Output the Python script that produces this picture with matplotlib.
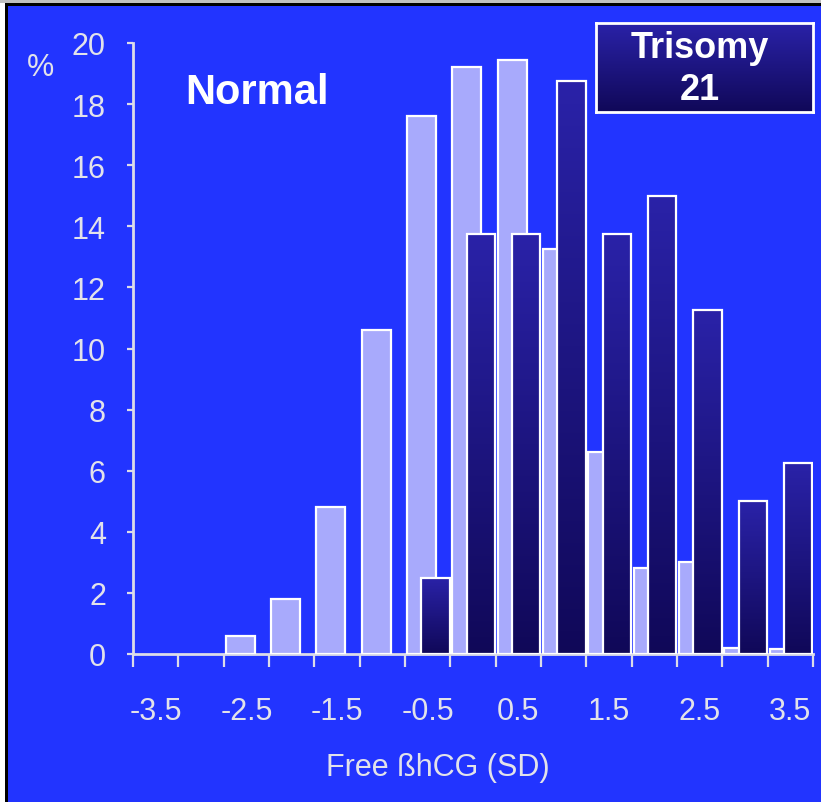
import numpy as np
import matplotlib
matplotlib.use("Agg")
import matplotlib.pyplot as plt
from matplotlib.colors import LinearSegmentedColormap
from matplotlib.patches import Rectangle

# ---- data ----
categories = [-3.5, -3.0, -2.5, -2.0, -1.5, -1.0, -0.5, 0.0, 0.5, 1.0, 1.5, 2.0, 2.5, 3.0, 3.5]
normal_pct = [0, 0, 0.6, 1.8, 4.8, 10.6, 17.6, 19.2, 19.45, 13.25, 6.6, 2.8, 3.0, 0.2, 0.15]
trisomy21_pct = [0, 0, 0, 0, 0, 0, 2.5, 13.75, 13.75, 18.75, 13.75, 15.0, 11.25, 5.0, 6.25]
x_tick_labels = ["-3.5", "-2.5", "-1.5", "-0.5", "0.5", "1.5", "2.5", "3.5"]
y_ticks = list(range(0, 21, 2))

# ---- style ----
BG = "#2234FF"
LAV = "#A8AAFC"
AXC = "#DCDCE8"
TXT = "#E2E2EA"
plt.rcParams['font.family'] = ['Liberation Sans', 'DejaVu Sans']

W, H = 821, 803
fig = plt.figure(figsize=(W / 100, H / 100), dpi=100, facecolor=BG)
ax = fig.add_axes([133 / W, (H - 655) / H, (813 - 133) / W, (655 - 44) / H])
ax.set_facecolor(BG)

idx = np.arange(len(categories))
nv = np.array(normal_pct, dtype=float)
tv = np.array(trisomy21_pct, dtype=float)

mn = nv > 0
ax.bar(idx[mn] - 0.136, nv[mn], width=0.64, color=LAV, edgecolor="white",
       linewidth=1.6, zorder=2)

mt = tv > 0
tri_bars = ax.bar(idx[mt] + 0.173, tv[mt], width=0.62, facecolor="none",
                  edgecolor="white", linewidth=1.6, zorder=3.2)

dark_cmap = LinearSegmentedColormap.from_list("dk", ["#100858", "#2A22A8"])
grad = np.linspace(0, 1, 256).reshape(-1, 1)
for b in tri_bars:
    x0, w, h = b.get_x(), b.get_width(), b.get_height()
    bg = Rectangle((x0, 0), w, h, facecolor=BG, edgecolor="none", zorder=3.0)
    ax.add_patch(bg)
    im = ax.imshow(grad, cmap=dark_cmap, extent=[x0, x0 + w, 0, h], origin="lower",
                   aspect="auto", zorder=3.1, interpolation="bilinear")
    im.set_clip_path(b)

ax.set_xlim(-0.5, len(categories) - 0.5)
ax.set_ylim(0, 20)

for s in ["top", "right"]:
    ax.spines[s].set_visible(False)
for s in ["left", "bottom"]:
    ax.spines[s].set_color(AXC)
    ax.spines[s].set_linewidth(2.0)
    ax.spines[s].set_zorder(1)

ax.set_xticks(np.arange(-0.5, len(categories), 1.0))
ax.set_xticklabels([])
ax.set_xticks(idx[::2], labels=x_tick_labels, minor=True)
ax.tick_params(axis="x", which="major", direction="out", length=9.5, width=1.6, color=AXC)
ax.tick_params(axis="x", which="minor", length=0, pad=30, labelsize=22, labelcolor=TXT)

ax.set_yticks(y_ticks)
ax.set_yticklabels([str(v) for v in y_ticks])
ax.tick_params(axis="y", direction="out", length=4.5, width=1.6, color=AXC,
               pad=15, labelsize=22, labelcolor=TXT)

fig.text(438 / W, (H - 768) / H, "Free \u00dfhCG (SD)", ha="center", va="center",
         fontsize=22, color=TXT)
fig.text(40 / W, (H - 68) / H, "%", ha="center", va="center", fontsize=22, color=TXT)
fig.text(185 / W, (H - 93) / H, "Normal", ha="left", va="center", fontsize=30,
         fontweight="bold", color="white")

# Trisomy 21 legend box
bx = fig.add_axes([596 / W, (H - 113) / H, (813 - 596) / W, (113 - 24) / H])
bx.imshow(grad, cmap=dark_cmap, extent=[0, 1, 0, 1], origin="lower", aspect="auto")
bx.set_xlim(0, 1)
bx.set_ylim(0, 1)
bx.set_xticks([])
bx.set_yticks([])
for s in bx.spines.values():
    s.set_color("white")
    s.set_linewidth(2.0)
bx.text(0.48, 0.72, "Trisomy", ha="center", va="center", fontsize=26,
        fontweight="bold", color="white", transform=bx.transAxes)
bx.text(0.48, 0.25, "21", ha="center", va="center", fontsize=26,
        fontweight="bold", color="white", transform=bx.transAxes)

# frame edges
fig.patches.append(Rectangle((0, 0), 5 / W, 1, transform=fig.transFigure,
                             facecolor="white", edgecolor="none", zorder=10))
fig.patches.append(Rectangle((0, 1 - 4 / H), 1, 4 / H, transform=fig.transFigure,
                             facecolor="#C0C0C0", edgecolor="none", zorder=10))
fig.patches.append(Rectangle((5 / W, 0), 2.5 / W, 1 - 4 / H, transform=fig.transFigure,
                             facecolor="black", edgecolor="none", zorder=11))
fig.patches.append(Rectangle((5 / W, 1 - 7 / H), 1, 3 / H, transform=fig.transFigure,
                             facecolor="black", edgecolor="none", zorder=11))

fig.savefig("out.png", dpi=100, facecolor=BG)
